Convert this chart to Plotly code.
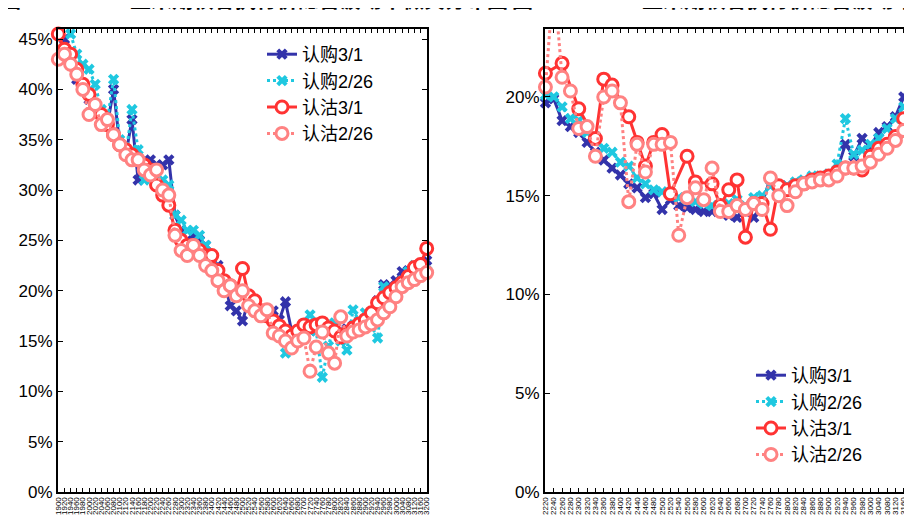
import plotly.graph_objects as go

# ---------------- data ----------------
left_strikes = [str(v) for v in list(range(1900, 3001, 20)) + [3040, 3080, 3120, 3160, 3200]]
right_strikes = [str(v) for v in list(range(2220, 3001, 20)) + [3040, 3080, 3120, 3160, 3200]]

left_call_0301 = [46.3, 45.0, 43.5, 41.0, 40.0, 39.0, 38.5, 37.0, 36.5, 40.0,
                  34.5, 33.5, 37.0, 31.0, 32.5, 33.0, 32.5, 32.5, 33.0, 27.5,
                  26.0, 25.0, 25.5, 25.0, 24.5, 23.0, 22.5, 21.0, 18.5, 18.0,
                  17.0, 19.0, 19.0, 18.0, 17.5, 18.0, 17.1, 18.9, 16.0, 16.0,
                  16.3, 16.2, 16.0, 16.0, 16.3, 16.5, 16.0, 16.2, 16.5, 16.8,
                  17.0, 17.8, 19.0, 20.6, 20.5, 21.0, 21.9, 22.0, 22.3, 22.5, 23.0]
left_call_0226 = [47.5, 46.5, 45.5, 43.5, 42.5, 42.0, 40.5, 38.0, 37.0, 41.0,
                  35.0, 33.5, 38.0, 34.0, 31.0, 31.5, 32.0, 31.0, 30.5, 27.5,
                  27.0, 26.0, 26.0, 25.5, 24.5, 23.0, 22.0, 21.0, 20.5, 20.0,
                  19.5, 19.0, 18.5, 18.0, 17.5, 17.0, 16.0, 13.8, 15.5, 16.0,
                  16.5, 17.6, 16.0, 11.4, 14.5, 16.8, 15.0, 14.1, 18.1, 17.0,
                  17.8, 16.5, 15.3, 20.4, 19.5, 20.0, 21.0, 21.9, 22.5, 22.0, 22.0]
left_put_0301 = [45.5, 44.0, 43.5, 42.0, 40.5, 39.5, 38.0, 37.5, 36.5, 35.5,
                 34.5, 34.0, 33.5, 33.0, 32.5, 32.0, 30.5, 29.5, 28.5, 26.0,
                 25.0, 24.5, 24.5, 24.0, 23.5, 23.5, 22.0, 21.0, 20.5, 20.0,
                 22.2, 19.5, 19.0, 18.0, 17.5, 17.0, 16.5, 16.0, 15.5, 16.0,
                 16.6, 16.4, 16.6, 16.8, 16.3, 16.0, 15.4, 15.8, 16.3, 16.7,
                 17.1, 17.8, 18.8, 19.3, 19.8, 20.3, 20.8, 21.4, 22.3, 22.6, 24.2]
left_put_0226 = [43.0, 43.5, 42.5, 41.5, 40.0, 37.5, 38.5, 36.5, 37.0, 35.5,
                 34.5, 33.5, 33.0, 33.0, 32.0, 31.5, 32.0, 30.0, 29.5, 25.5,
                 24.0, 23.5, 24.5, 23.5, 22.5, 22.0, 21.0, 20.0, 20.5, 19.5,
                 20.0, 18.5, 18.0, 17.5, 18.1, 15.8, 15.5, 15.0, 14.3, 15.0,
                 15.3, 12.0, 14.4, 15.9, 13.8, 12.8, 17.4, 15.5, 15.9, 16.1,
                 16.4, 16.7, 17.1, 17.8, 18.4, 19.4, 20.4, 20.8, 21.1, 21.5, 21.8]

right_call_0301 = [19.7, 19.9, 18.8, 18.5, 18.2, 17.7, 17.2, 16.8, 16.4, 16.05,
                   15.6, 15.4, 14.9, 15.1, 14.3, 14.8, 14.5, 14.4, 14.3, 14.2,
                   14.2, 14.2, 14.0, 13.9, 14.2, 13.9, 14.6, 15.9, 15.2, 15.5,
                   15.4, 15.7, 15.7, 15.9, 16.0, 16.3, 17.6, 17.0, 17.9, 17.5,
                   18.2, 18.5, 19.0, 20.0, 21.0]
right_call_0226 = [20.1, 20.0, 19.5, 18.9, 18.8, 18.2, 18.0, 17.4, 17.2, 16.7,
                   16.5, 15.9, 15.6, 15.3, 15.2, 15.0, 14.9, 14.8, 14.7, 14.6,
                   14.5, 14.5, 14.6, 14.8, 14.5, 14.9, 15.0, 15.5, 15.5, 15.5,
                   15.7, 15.8, 16.0, 16.0, 16.1, 16.6, 18.9, 17.1, 17.3, 17.6,
                   17.9, 18.4, 18.9, 19.5, 20.0]
right_put_0301 = [21.2, None, 21.7, None, 19.4, None, 17.9, 20.9, 20.6, None,
                  19.0, 17.7, 16.5, 17.7, 18.1, 15.1, None, 17.0, 15.7, None,
                  15.6, 14.5, 15.3, 15.8, 12.9, 14.6, 14.6, 13.3, 15.5, 15.3,
                  15.5, 15.6, 15.8, 15.9, 16.0, 16.2, 16.4, 16.4, 16.3, 17.0,
                  17.4, 17.6, 18.0, 18.9, 19.5]
right_put_0226 = [20.5, 26.0, 21.0, 20.3, 18.4, 18.5, 17.0, 20.0, 20.3, 19.7,
                  14.7, 17.6, 16.2, 17.6, 17.6, 17.7, 13.0, 14.9, 15.4, 14.8,
                  16.4, 14.2, 14.2, 14.5, 14.3, 14.6, 14.3, 15.9, 15.0, 14.5,
                  15.2, 15.6, 15.7, 15.8, 15.8, 16.0, 16.4, 16.4, 16.5, 16.7,
                  17.1, 17.4, 17.8, 18.3, 19.0]

series_names = ["认购3/1", "认购2/26", "认沽3/1", "认沽2/26"]
left_title = "图12：C2105玉米期权各执行价隐含波动率微笑分布图"
right_title = "图13：C2109玉米期权各执行价隐含波动率微笑分布图"

# ---------------- styles ----------------
BLUE = "#3333AA"
CYAN = "#1FC8E0"
RED = "#FF3333"
SALMON = "#FF8282"
FONT = "Liberation Sans, Arial, Noto Sans CJK SC, sans-serif"

styles = [
    dict(line=dict(color=BLUE, width=3), marker=dict(symbol="x", size=10, color=BLUE, line=dict(width=0))),
    dict(line=dict(color=CYAN, width=3, dash="dot"), marker=dict(symbol="x", size=10, color=CYAN, line=dict(width=0))),
    dict(line=dict(color=RED, width=3), marker=dict(symbol="circle", size=12, color="white", line=dict(color=RED, width=3))),
    dict(line=dict(color=SALMON, width=3, dash="dot"), marker=dict(symbol="circle", size=12, color="white", line=dict(color=SALMON, width=3))),
]

fig = go.Figure()
left_series = [left_call_0301, left_call_0226, left_put_0301, left_put_0226]
right_series = [right_call_0301, right_call_0226, right_put_0301, right_put_0226]

for name, ys, st in zip(series_names, left_series, styles):
    fig.add_trace(go.Scatter(x=left_strikes, y=ys, name=name, mode="lines+markers",
                             xaxis="x", yaxis="y", legend="legend", cliponaxis=False,
                             connectgaps=True, **st))
for name, ys, st in zip(series_names, right_series, styles):
    fig.add_trace(go.Scatter(x=right_strikes, y=ys, name=name, mode="lines+markers",
                             xaxis="x2", yaxis="y2", legend="legend2", cliponaxis=False,
                             connectgaps=True, **st))

W, H = 912, 523
# the page places the figure 8px right and 8px down; positions below are in figure pixels
ydom = [(H - 484) / H, (H - 21) / H]

common_x = dict(type="category", showline=True, linecolor="black", linewidth=2,
                ticks="inside", ticklen=4, tickcolor="black", tickangle=-90,
                tickfont=dict(family=FONT, size=8, color="black"),
                showgrid=False, zeroline=False, tickmode="array", automargin=False)
common_y = dict(showline=True, linecolor="black", linewidth=2, ticks="inside",
                ticklen=5, tickcolor="black", ticksuffix="%", dtick=5, tick0=0,
                tickfont=dict(family=FONT, size=17, color="black"),
                showgrid=False, zeroline=False, automargin=False)

fig.update_layout(
    template="none",
    width=W, height=H, autosize=False,
    margin=dict(l=0, r=0, t=0, b=0, pad=0, autoexpand=False),
    paper_bgcolor="white", plot_bgcolor="white",
    font=dict(family=FONT, color="black"),
    xaxis=dict(domain=[50 / W, 419 / W], range=[-0.05, 60.05], mirror="ticks",
               tickvals=left_strikes, ticktext=left_strikes, anchor="y", **common_x),
    yaxis=dict(domain=ydom, range=[0, 46.0], mirror="ticks", anchor="x", **common_y),
    xaxis2=dict(domain=[537 / W, 1.0], range=[-0.05, 44.95], mirror="ticks",
                tickvals=right_strikes, ticktext=right_strikes, anchor="y2", **common_x),
    yaxis2=dict(domain=ydom, range=[0, 23.44], mirror=False, anchor="x2", **common_y),
    legend=dict(x=254 / W, y=1 - 28 / H, xanchor="left", yanchor="top",
                bgcolor="rgba(0,0,0,0)", font=dict(family=FONT, size=18, color="black"),
                tracegroupgap=0),
    legend2=dict(x=743 / W, y=1 - 349 / H, xanchor="left", yanchor="top",
                 bgcolor="rgba(0,0,0,0)", font=dict(family=FONT, size=18, color="black"),
                 tracegroupgap=0),
    showlegend=True,
    annotations=[
        dict(text="<b>" + left_title + "</b>", x=-10 / W, y=1 + 10 / H, xref="paper", yref="paper",
             xanchor="left", yanchor="middle", showarrow=False,
             font=dict(family="Noto Sans CJK SC", size=21, color="black")),
        dict(text="<b>" + right_title + "</b>", x=502 / W, y=1 + 10 / H, xref="paper", yref="paper",
             xanchor="left", yanchor="middle", showarrow=False,
             font=dict(family="Noto Sans CJK SC", size=21, color="black")),
    ],
)

fig.write_html("out.html")
